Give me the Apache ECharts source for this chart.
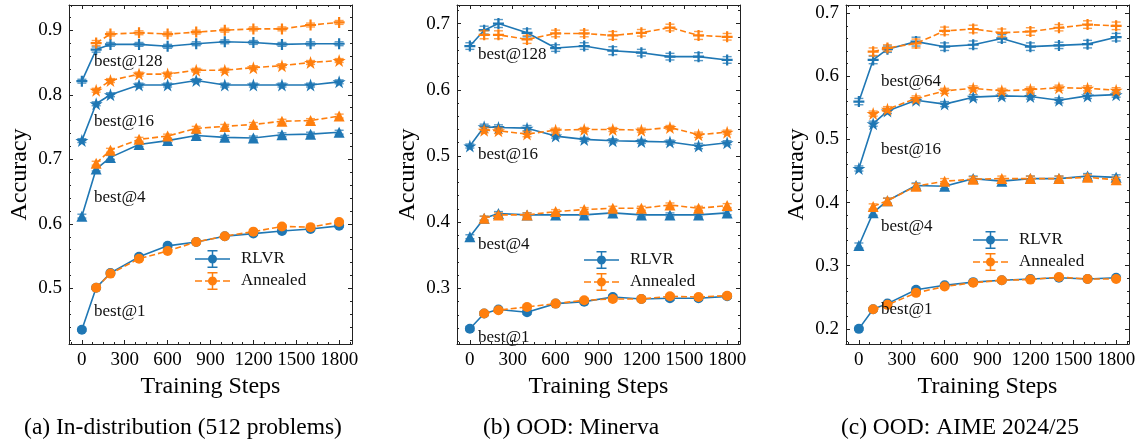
<!DOCTYPE html>
<html>
<head>
<meta charset="utf-8">
<script src="https://cdn.jsdelivr.net/npm/echarts@6/dist/echarts.min.js"></script>
<style>
  html, body { margin: 0; padding: 0; background: #ffffff; }
  #chart { width: 1138px; height: 446px; }
</style>
</head>
<body>
<div id="chart"></div>
<script>
// Training steps at which each model was evaluated
const steps = [0, 100, 200, 400, 600, 800, 1000, 1200, 1400, 1600, 1800];
const annealSteps = [100, 200, 400, 600, 800, 1000, 1200, 1400, 1600, 1800];
const xTicks = [0, 300, 600, 900, 1200, 1500, 1800];

// (a) In-distribution
const aYTicks = [0.5, 0.6, 0.7, 0.8, 0.9];
const aRlvr128 = [0.821, 0.870, 0.878, 0.878, 0.875, 0.879, 0.882, 0.881, 0.878, 0.879, 0.879];
const aAnn128  = [0.880, 0.894, 0.896, 0.894, 0.897, 0.900, 0.902, 0.902, 0.908, 0.912];
const aErr128  = [0.003, 0.004, 0.003, 0.003, 0.003, 0.003, 0.003, 0.003, 0.003, 0.003, 0.003];
const aRlvr16  = [0.729, 0.786, 0.800, 0.815, 0.815, 0.822, 0.815, 0.815, 0.815, 0.815, 0.820];
const aAnn16   = [0.807, 0.822, 0.832, 0.832, 0.838, 0.838, 0.842, 0.845, 0.850, 0.853];
const aErr16   = [0.003, 0.003, 0.003, 0.003, 0.003, 0.003, 0.003, 0.003, 0.003, 0.003, 0.003];
const aRlvr4   = [0.612, 0.685, 0.703, 0.723, 0.729, 0.737, 0.734, 0.733, 0.738, 0.739, 0.742];
const aAnn4    = [0.694, 0.714, 0.731, 0.736, 0.748, 0.751, 0.754, 0.759, 0.760, 0.767];
const aErr4    = [0.003, 0.003, 0.003, 0.003, 0.003, 0.003, 0.003, 0.003, 0.003, 0.003, 0.003];
const aRlvr1   = [0.436, 0.501, 0.524, 0.549, 0.566, 0.572, 0.581, 0.585, 0.589, 0.592, 0.597];
const aAnn1    = [0.501, 0.523, 0.546, 0.558, 0.572, 0.581, 0.588, 0.596, 0.595, 0.603];
const aErr1    = [0.002, 0.002, 0.002, 0.002, 0.002, 0.002, 0.002, 0.002, 0.002, 0.002, 0.002];

// (b) OOD: Minerva
const bYTicks = [0.3, 0.4, 0.5, 0.6, 0.7];
const bRlvr128 = [0.666, 0.690, 0.700, 0.686, 0.663, 0.666, 0.659, 0.656, 0.650, 0.650, 0.645];
const bAnn128  = [0.683, 0.683, 0.676, 0.685, 0.685, 0.682, 0.686, 0.694, 0.682, 0.680];
const bErr128  = [0.005, 0.006, 0.006, 0.006, 0.005, 0.005, 0.006, 0.005, 0.005, 0.006, 0.005];
const bRlvr16  = [0.515, 0.544, 0.543, 0.542, 0.530, 0.525, 0.523, 0.522, 0.521, 0.515, 0.520];
const bAnn16   = [0.539, 0.538, 0.533, 0.539, 0.540, 0.540, 0.539, 0.543, 0.532, 0.536];
const bErr16   = [0.003, 0.004, 0.004, 0.004, 0.003, 0.003, 0.003, 0.003, 0.003, 0.004, 0.003];
const bRlvr4   = [0.378, 0.406, 0.413, 0.411, 0.411, 0.411, 0.414, 0.411, 0.411, 0.411, 0.414];
const bAnn4    = [0.406, 0.411, 0.411, 0.416, 0.419, 0.421, 0.421, 0.426, 0.421, 0.425];
const bErr4    = [0.003, 0.003, 0.003, 0.003, 0.003, 0.003, 0.003, 0.003, 0.003, 0.003, 0.003];
const bRlvr1   = [0.239, 0.262, 0.268, 0.264, 0.277, 0.280, 0.287, 0.284, 0.285, 0.285, 0.288];
const bAnn1    = [0.262, 0.267, 0.272, 0.277, 0.282, 0.284, 0.284, 0.288, 0.287, 0.289];
const bErr1    = [0.003, 0.003, 0.003, 0.003, 0.003, 0.003, 0.003, 0.003, 0.003, 0.003, 0.003];

// (c) OOD: AIME 2024/25
const cYTicks = [0.2, 0.3, 0.4, 0.5, 0.6, 0.7];
const cRlvr64  = [0.560, 0.626, 0.643, 0.655, 0.647, 0.650, 0.660, 0.647, 0.649, 0.651, 0.662];
const cAnn64   = [0.639, 0.645, 0.652, 0.672, 0.675, 0.669, 0.671, 0.677, 0.682, 0.680];
const cErr64   = [0.005, 0.006, 0.005, 0.007, 0.006, 0.006, 0.006, 0.006, 0.005, 0.006, 0.006];
const cRlvr16  = [0.454, 0.525, 0.545, 0.562, 0.556, 0.567, 0.569, 0.568, 0.562, 0.569, 0.571];
const cAnn16   = [0.541, 0.548, 0.565, 0.577, 0.581, 0.577, 0.579, 0.582, 0.581, 0.578];
const cErr16   = [0.004, 0.004, 0.004, 0.004, 0.004, 0.004, 0.004, 0.004, 0.004, 0.004, 0.004];
const cRlvr4   = [0.332, 0.384, 0.403, 0.427, 0.426, 0.438, 0.434, 0.438, 0.438, 0.442, 0.440];
const cAnn4    = [0.394, 0.403, 0.426, 0.434, 0.437, 0.438, 0.438, 0.438, 0.440, 0.436];
const cErr4    = [0.004, 0.004, 0.004, 0.004, 0.004, 0.004, 0.004, 0.004, 0.004, 0.004, 0.004];
const cRlvr1   = [0.200, 0.231, 0.240, 0.262, 0.269, 0.274, 0.277, 0.279, 0.281, 0.279, 0.281];
const cAnn1    = [0.231, 0.238, 0.257, 0.267, 0.273, 0.277, 0.278, 0.282, 0.279, 0.279];
const cErr1    = [0.002, 0.002, 0.002, 0.002, 0.002, 0.002, 0.002, 0.002, 0.002, 0.002, 0.002];

const FONT = 'Liberation Serif';
const BLUE = '#1f77b4';
const ORANGE = '#ff7f0e';
const STAR = 'path://M50,0L61.8,35.1L98.1,35.1L68.7,56.8L79.4,91L50,70L20.6,91L31.3,56.8L1.9,35.1L38.2,35.1Z';
const PLUS = 'path://M40,0H60V40H100V60H60V100H40V60H0V40H40Z';

const MARKERS = {
  plus:     { symbol: PLUS, size: 11 },
  star:     { symbol: STAR, size: 13 },
  triangle: { symbol: 'triangle', size: 11 },
  circle:   { symbol: 'circle', size: 10 }
};

const panels = [
  {
    grid: { left: 69, top: 5, width: 283, height: 339 },
    yMin: 0.414, yMax: 0.939, yTicks: aYTicks,
    curves: [
      { marker: 'plus', rlvr: aRlvr128, ann: aAnn128, err: aErr128 },
      { marker: 'star', rlvr: aRlvr16, ann: aAnn16, err: aErr16 },
      { marker: 'triangle', rlvr: aRlvr4, ann: aAnn4, err: aErr4 },
      { marker: 'circle', rlvr: aRlvr1, ann: aAnn1, err: aErr1 }
    ],
    legend: { left: 195, top: 250 }
  },
  {
    grid: { left: 457, top: 5, width: 283, height: 339 },
    yMin: 0.216, yMax: 0.728, yTicks: bYTicks,
    curves: [
      { marker: 'plus', rlvr: bRlvr128, ann: bAnn128, err: bErr128 },
      { marker: 'star', rlvr: bRlvr16, ann: bAnn16, err: bErr16 },
      { marker: 'triangle', rlvr: bRlvr4, ann: bAnn4, err: bErr4 },
      { marker: 'circle', rlvr: bRlvr1, ann: bAnn1, err: bErr1 }
    ],
    legend: { left: 584, top: 251 }
  },
  {
    grid: { left: 846, top: 5, width: 283, height: 339 },
    yMin: 0.176, yMax: 0.713, yTicks: cYTicks,
    curves: [
      { marker: 'plus', rlvr: cRlvr64, ann: cAnn64, err: cErr64 },
      { marker: 'star', rlvr: cRlvr16, ann: cAnn16, err: cErr16 },
      { marker: 'triangle', rlvr: cRlvr4, ann: cAnn4, err: cErr4 },
      { marker: 'circle', rlvr: cRlvr1, ann: cAnn1, err: cErr1 }
    ],
    legend: { left: 973, top: 231 }
  }
];

// minor tick positions: x every 75 steps, y every 0.02
const X_MIN = -90, X_MAX = 1890;
const xMinor = [];
for (let k = -1; k * 75 <= X_MAX; k++) { if (k % 4 !== 0) xMinor.push(k * 75); }
function yMinorTicks(lo, hi) {
  const out = [];
  for (let k = Math.ceil(lo / 0.02); k * 0.02 <= hi; k++) out.push(Math.round(k * 2) / 100);
  return out;
}

const AXIS_COLOR = '#222';
const xAxes = [], yAxes = [], series = [], legends = [];

function tickAxis(base, position, values, len, showLine) {
  return Object.assign({}, base, {
    position: position,
    axisLine: { show: showLine, onZero: false, lineStyle: { color: AXIS_COLOR, width: 1 } },
    axisTick: { show: true, inside: true, length: len, customValues: values, lineStyle: { color: AXIS_COLOR, width: 1 } },
    axisLabel: { show: false },
    splitLine: { show: false }
  });
}

function errorBarItem(color) {
  return function (params, api) {
    const x = api.value(0), y = api.value(1), e = api.value(2);
    const top = api.coord([x, y + e]);
    const bot = api.coord([x, y - e]);
    const half = 4.5;
    const st = () => ({ stroke: color, lineWidth: 1.4, opacity: 0.75 });
    return {
      type: 'group',
      children: [
        { type: 'line', shape: { x1: top[0], y1: top[1], x2: bot[0], y2: bot[1] }, style: st() },
        { type: 'line', shape: { x1: top[0] - half, y1: top[1], x2: top[0] + half, y2: top[1] }, style: st() },
        { type: 'line', shape: { x1: bot[0] - half, y1: bot[1], x2: bot[0] + half, y2: bot[1] }, style: st() }
      ]
    };
  };
}

const ICON_RLVR = 'path://M0,8.25H35V9.75H0Z M16.75,0H18.25V18H16.75Z M12.5,0H22.5V1.4H12.5Z M12.5,16.6H22.5V18H12.5Z M13,9A4.5,4.5,0,1,1,22,9A4.5,4.5,0,1,1,13,9Z';
const ICON_ANN = 'path://M0,8.25H7V9.75H0Z M10,8.25H25V9.75H10Z M28,8.25H35V9.75H28Z M16.75,0H18.25V18H16.75Z M12.5,0H22.5V1.4H12.5Z M12.5,16.6H22.5V18H12.5Z M13,9A4.5,4.5,0,1,1,22,9A4.5,4.5,0,1,1,13,9Z';

panels.forEach((p, g) => {
  const xBase = { type: 'value', gridIndex: g, min: X_MIN, max: X_MAX };
  const yBase = { type: 'value', gridIndex: g, min: p.yMin, max: p.yMax };
  const xi = xAxes.length, yi = yAxes.length;

  // bottom axis with labels and name
  xAxes.push(Object.assign({}, tickAxis(xBase, 'bottom', xTicks, 4, true), {
    axisLabel: { show: true, customValues: xTicks, margin: 7, fontFamily: FONT, fontSize: 19, color: '#000',
                 formatter: v => String(v) },
    name: 'Training Steps', nameLocation: 'middle', nameGap: 27,
    nameTextStyle: { fontFamily: FONT, fontSize: 24, color: '#000' }
  }));
  xAxes.push(tickAxis(xBase, 'bottom', xMinor, 2, false));
  xAxes.push(tickAxis(xBase, 'top', xTicks, 4, true));
  xAxes.push(tickAxis(xBase, 'top', xMinor, 2, false));

  const yMinor = yMinorTicks(p.yMin, p.yMax);
  yAxes.push(Object.assign({}, tickAxis(yBase, 'left', p.yTicks, 4, true), {
    axisLabel: { show: true, customValues: p.yTicks, margin: 7, fontFamily: FONT, fontSize: 19, color: '#000',
                 formatter: v => String(v) },
    name: 'Accuracy', nameLocation: 'middle', nameGap: 37,
    nameTextStyle: { fontFamily: FONT, fontSize: 24, color: '#000' }
  }));
  yAxes.push(tickAxis(yBase, 'left', yMinor, 2, false));
  yAxes.push(tickAxis(yBase, 'right', p.yTicks, 4, true));
  yAxes.push(tickAxis(yBase, 'right', yMinor, 2, false));

  p.curves.forEach(c => {
    const m = MARKERS[c.marker];
    [
      { name: 'RLVR', xs: steps, ys: c.rlvr, es: c.err, color: BLUE, dash: 'solid', z: 3 },
      { name: 'Annealed', xs: annealSteps, ys: c.ann, es: c.err.slice(1), color: ORANGE, dash: [6, 3], z: 4 }
    ].forEach(s => {
      series.push({
        type: 'line', name: s.name, xAxisIndex: xi, yAxisIndex: yi, z: s.z,
        data: s.xs.map((x, i) => [x, s.ys[i]]),
        symbol: m.symbol, symbolSize: m.size, showSymbol: true,
        lineStyle: { color: s.color, width: 1.6, type: s.dash },
        itemStyle: { color: s.color, borderWidth: 0 },
        emphasis: { disabled: true },
        silent: true
      });
      series.push({
        type: 'custom', name: s.name, xAxisIndex: xi, yAxisIndex: yi, z: s.z,
        renderItem: errorBarItem(s.color),
        itemStyle: { color: s.color },
        encode: { x: 0, y: 1 },
        data: s.xs.map((x, i) => [x, s.ys[i], s.es[i]]),
        silent: true
      });
    });
  });

  legends.push({
    left: p.legend.left, top: p.legend.top, orient: 'vertical', padding: 0,
    itemWidth: 35, itemHeight: 18, itemGap: 4, selectedMode: false,
    itemStyle: { borderWidth: 0 },
    textStyle: { fontFamily: FONT, fontSize: 17, color: '#111', padding: [0, 0, 0, 6] },
    data: [
      { name: 'RLVR', icon: ICON_RLVR, itemStyle: { color: BLUE } },
      { name: 'Annealed', icon: ICON_ANN, itemStyle: { color: ORANGE } }
    ]
  });
});

// curve annotations and panel captions
const notes = [
  ['best@128', 94, 62], ['best@16', 94, 122], ['best@4', 94, 198], ['best@1', 94, 312],
  ['best@128', 478, 55], ['best@16', 478, 155], ['best@4', 478, 245], ['best@1', 478, 338],
  ['best@64', 881, 82], ['best@16', 881, 150], ['best@4', 881, 227], ['best@1', 881, 310]
];
const captions = [
  ['(a) In-distribution (512 problems)', 183, 428],
  ['(b) OOD: Minerva', 571, 428],
  ['(c) OOD: AIME 2024/25', 960, 428]
];
const graphics = notes.map(([t, x, y]) => ({
  type: 'text', x: x, y: y, z: 10,
  style: { text: t, fill: '#111', font: '17px "' + FONT + '"', align: 'left', verticalAlign: 'middle' }
})).concat(captions.map(([t, x, y]) => ({
  type: 'text', x: x, y: y, z: 10,
  style: { text: t, fill: '#000', font: '23.5px "' + FONT + '"', align: 'center', verticalAlign: 'middle' }
})));

const chart = echarts.init(document.getElementById('chart'), null, { renderer: 'canvas' });
chart.setOption({
  animation: false,
  backgroundColor: '#ffffff',
  grid: panels.map(p => Object.assign({ containLabel: false, outerBoundsMode: 'none' }, p.grid)),
  xAxis: xAxes,
  yAxis: yAxes,
  legend: legends,
  series: series,
  graphic: graphics
});
</script>
</body>
</html>
